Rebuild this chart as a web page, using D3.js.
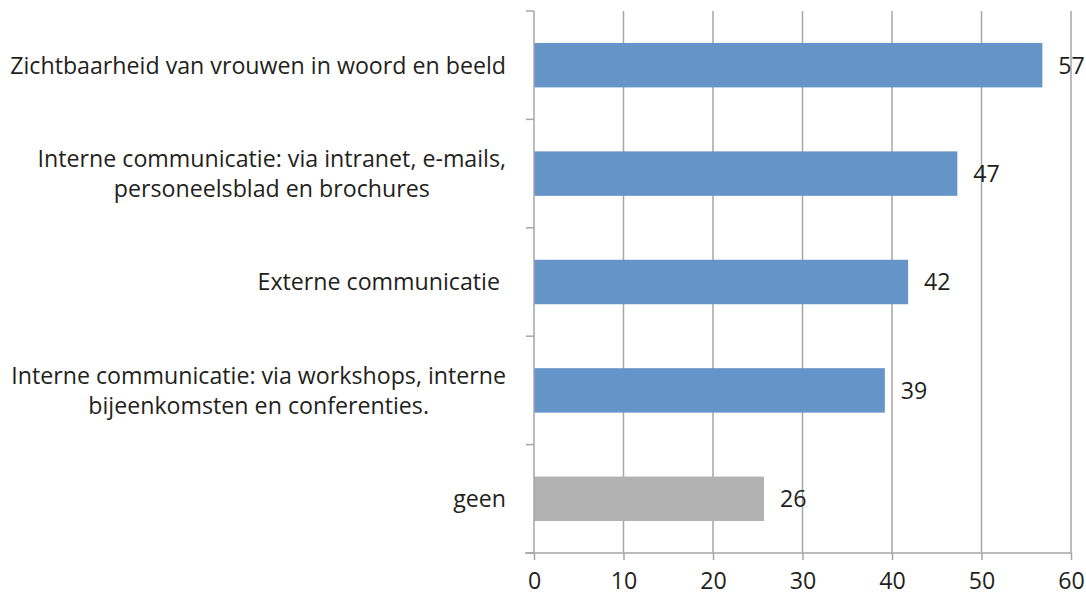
<!DOCTYPE html>
<html>
<head>
<meta charset="utf-8">
<script src="https://cdn.jsdelivr.net/npm/d3@7"></script>
<style>
  body { margin: 0; background: #fff; }
  text { font-family: "Open Sans", sans-serif; fill: #231f20; }
</style>
</head>
<body>
<svg id="chart" width="1086" height="599"></svg>
<script>
// categories top to bottom, each a list of label lines
const categories = [
    ["Zichtbaarheid van vrouwen in woord en beeld"],
    ["Interne communicatie: via intranet, e-mails,", "personeelsblad en brochures"],
    ["Externe communicatie "],
    ["Interne communicatie: via workshops, interne", "bijeenkomsten en conferenties."],
    ["geen"]
];
const values = [56.8, 47.3, 41.8, 39.2, 25.7];
const barColours = ["#6594c9", "#6594c9", "#6594c9", "#6594c9", "#b2b2b2"];
const xTicks = [0, 10, 20, 30, 40, 50, 60];

const svg = d3.select("#chart");

const plotLeft = 534, plotRight = 1071, plotTop = 11, plotBottom = 553;
const fontSize = 23.2;

const x = d3.scaleLinear().domain([0, 60]).range([plotLeft, plotRight]);
const y = d3.scaleBand()
    .domain(d3.range(categories.length))
    .range([plotTop, plotBottom])
    .paddingInner(0.59)
    .paddingOuter(0.295);

// gridlines
svg.append("g")
    .selectAll("line")
    .data(xTicks.slice(1))
    .join("line")
    .attr("x1", d => x(d)).attr("x2", d => x(d))
    .attr("y1", plotTop).attr("y2", plotBottom)
    .attr("stroke", "#a6a6a6")
    .attr("stroke-width", 1.5);

// bars
svg.append("g")
    .selectAll("rect")
    .data(values)
    .join("rect")
    .attr("x", x(0))
    .attr("y", (d, i) => y(i))
    .attr("width", d => x(d) - x(0))
    .attr("height", y.bandwidth())
    .attr("fill", (d, i) => barColours[i]);

// value labels
svg.append("g")
    .selectAll("text")
    .data(values)
    .join("text")
    .attr("x", d => x(d) + 16)
    .attr("y", (d, i) => y(i) + y.bandwidth() / 2)
    .attr("dy", "0.36em")
    .attr("font-size", fontSize)
    .text(d => d3.format(".0f")(d));

// vertical axis line + category boundary ticks
const step = (plotBottom - plotTop) / categories.length;
svg.append("line")
    .attr("x1", plotLeft).attr("x2", plotLeft)
    .attr("y1", plotTop).attr("y2", plotBottom)
    .attr("stroke", "#a6a6a6").attr("stroke-width", 1.5);
svg.append("g")
    .selectAll("line")
    .data(d3.range(categories.length + 1))
    .join("line")
    .attr("x1", plotLeft - 8).attr("x2", plotLeft)
    .attr("y1", i => plotTop + i * step).attr("y2", i => plotTop + i * step)
    .attr("stroke", "#a6a6a6").attr("stroke-width", 1.5);

// bottom axis
const xAxis = svg.append("g")
    .attr("transform", `translate(0,${plotBottom})`)
    .call(d3.axisBottom(x).tickValues(xTicks).tickSize(7).tickPadding(13));
xAxis.select(".domain")
    .attr("d", `M${plotLeft - 9},0H${plotRight}`)
    .attr("stroke", "#a6a6a6").attr("stroke-width", 1.5);
xAxis.selectAll(".tick line").attr("stroke", "#a6a6a6").attr("stroke-width", 1.5);
xAxis.selectAll(".tick text")
    .attr("font-size", fontSize)
    .attr("font-family", "Open Sans, sans-serif")
    .attr("fill", "#231f20");

// category labels, lines centred on each other, block right-aligned
const labelRight = 506, lineH = 30;
categories.forEach((lines, i) => {
    const g = svg.append("g");
    const cy = y(i) + y.bandwidth() / 2;
    const texts = lines.map((t, j) => g.append("text")
        .attr("font-size", fontSize)
        .attr("xml:space", "preserve")
        .attr("dy", "0.36em")
        .attr("y", cy + (j - (lines.length - 1) / 2) * lineH)
        .text(t));
    const w = d3.max(texts, t => t.node().getComputedTextLength());
    texts.forEach(t => t.attr("text-anchor", "middle").attr("x", labelRight - w / 2));
});
</script>
</body>
</html>
